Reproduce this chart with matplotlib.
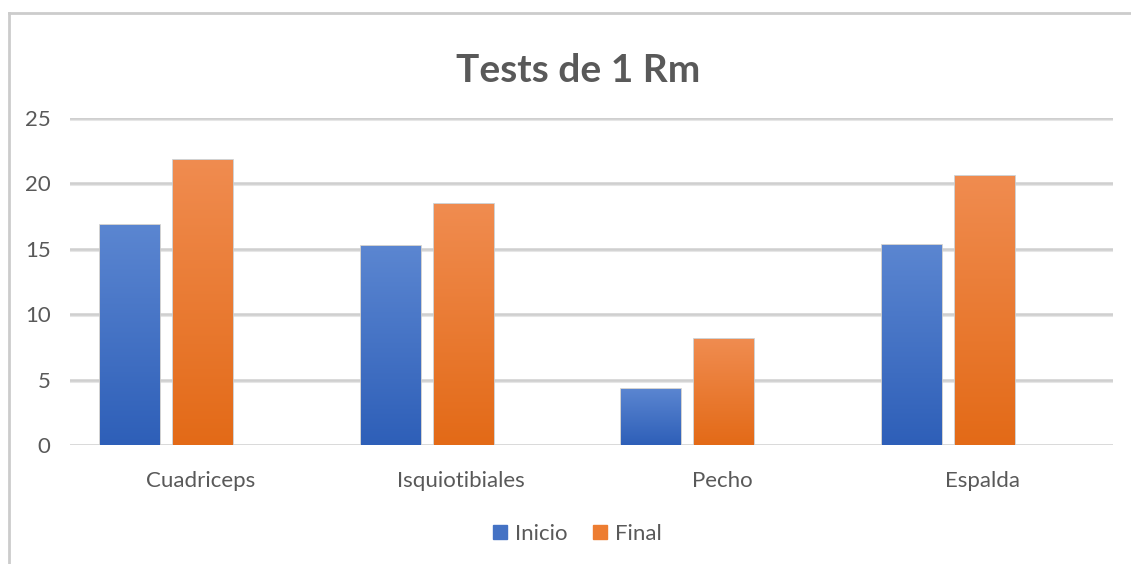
import matplotlib
matplotlib.use("Agg")
from matplotlib import pyplot as plt
from matplotlib.colors import LinearSegmentedColormap
from matplotlib.lines import Line2D
import numpy as np

# Chart data
categories = ["Cuadriceps", "Isquiotibiales", "Pecho", "Espalda"]
inicio = [16.8, 15.2, 4.3, 15.3]
final = [21.8, 18.4, 8.1, 20.6]
series_names = ["Inicio", "Final"]
y_ticks = [0, 5, 10, 15, 20, 25]

plt.rcParams["font.family"] = ["Lato", "DejaVu Sans"]
text_color = "#595959"

fig = plt.figure(figsize=(11.31, 5.64), dpi=100)
ax = fig.add_axes([70 / 1131, 1 - 445 / 564, (1113 - 70) / 1131, (445 - 118) / 564])

# Excel layout: three slots per category (third one empty), so the
# "Final" bar sits on the category centre
x = np.arange(len(categories))
step = 0.28
width = 0.23
shift = 0.01

blue_cmap = LinearSegmentedColormap.from_list("b", ["#2e5fb8", "#5b86d1"])
orange_cmap = LinearSegmentedColormap.from_list("o", ["#e36a17", "#f08c50"])

grad = np.linspace(0, 1, 256).reshape(-1, 1)
for values, offset, cmap, base in [(inicio, -step, blue_cmap, "#4472c4"),
                                   (final, 0.0, orange_cmap, "#ed7d31")]:
    bars = ax.bar(x + offset + shift, values, width, color=base,
                  edgecolor="#c8c8c8", linewidth=1.2, zorder=3)
    for bar in bars:
        x0 = bar.get_x()
        h = bar.get_height()
        img = ax.imshow(grad, cmap=cmap, aspect="auto", origin="lower",
                        extent=[x0, x0 + bar.get_width(), 0, h], zorder=3.5)
        img.set_clip_path(bar)

ax.set_xlim(-0.5, len(categories) - 0.5)
ax.set_ylim(0, 25)
ax.set_yticks(y_ticks)
ax.set_xticks(x)
ax.set_xticklabels(categories)

# Gridlines with a soft shadow
for t in y_ticks:
    ax.axhline(t - 0.08, color="#e6e6e6", linewidth=2.2, zorder=1)
    ax.axhline(t, color="#cfcfcf", linewidth=1.8, zorder=1)

for s in ax.spines.values():
    s.set_visible(False)
ax.tick_params(length=0, labelsize=16, colors=text_color)
ax.tick_params(axis="y", pad=14)
ax.tick_params(axis="x", pad=19)

fig.text(0.511, 1 - 70 / 564, "Tests de 1 Rm", ha="center", va="center",
         fontsize=28, fontweight="bold", color=text_color)

handles = [Line2D([], [], marker="s", linestyle="", markersize=10,
                  markerfacecolor=c, markeredgecolor=c)
           for c in ["#4472c4", "#ed7d31"]]
fig.legend(handles, series_names, loc="center",
           bbox_to_anchor=(577 / 1131, 1 - 534 / 564), ncol=2, frameon=False,
           fontsize=16, labelcolor=text_color, handlelength=0.7,
           handletextpad=0.35, columnspacing=1.1)

# Outer chart frame
fig.add_artist(Line2D([8.5 / 1131, 8.5 / 1131], [0, 1 - 12.5 / 564],
                      transform=fig.transFigure, color="#cccccc", linewidth=2))
fig.add_artist(Line2D([8.5 / 1131, 1], [1 - 12.5 / 564, 1 - 12.5 / 564],
                      transform=fig.transFigure, color="#cccccc", linewidth=2))

fig.savefig("out.png", dpi=100)
